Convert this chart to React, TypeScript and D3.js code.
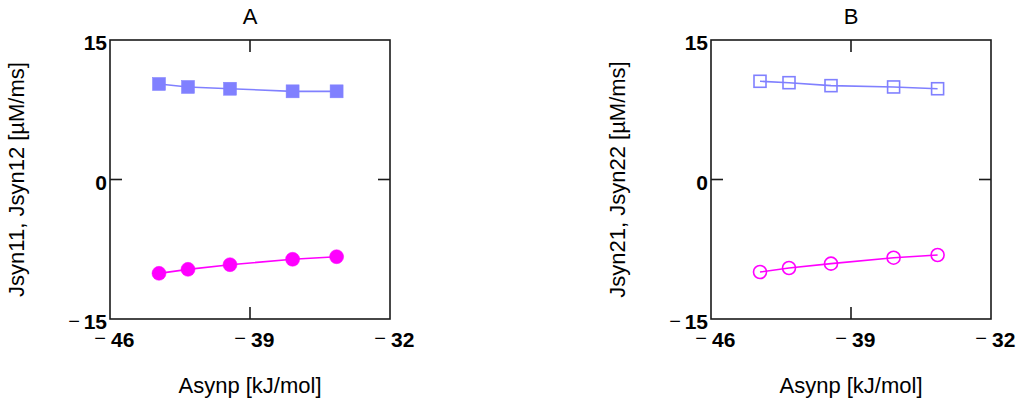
import React from "react";
import * as d3 from "d3";

const xValues = [-43.55, -42.1, -40.0, -36.87, -34.67];
const aSquares = [10.27, 9.95, 9.76, 9.48, 9.48];
const aCircles = [-10.09, -9.66, -9.16, -8.58, -8.3];
const bSquares = [10.56, 10.41, 10.09, 9.95, 9.76];
const bCircles = [-9.95, -9.52, -9.05, -8.41, -8.12];
const xTicks = [-46, -39, -32];
const yTicks = [-15, 0, 15];
const xDomain = [-46, -32];
const yDomain = [-15, 15];

const BLUE = "#8080ff";
const MAGENTA = "#ff00ff";
const AXIS = "#1a1a1a";
const FONT = "Liberation Sans, Arial, sans-serif";

type PanelProps = {
  left: number;
  title: string;
  yLabel: string;
  squares: number[];
  circles: number[];
  filled: boolean;
};

function Panel({ left, title, yLabel, squares, circles, filled }: PanelProps) {
  const top = 40;
  const w = 280;
  const h = 279;
  const x = d3.scaleLinear().domain(xDomain).range([left, left + w]);
  const y = d3.scaleLinear().domain(yDomain).range([top + h, top]);
  const line = d3
    .line<[number, number]>()
    .x((d) => x(d[0]))
    .y((d) => y(d[1]));
  const sqPts: [number, number][] = xValues.map((v, i) => [v, squares[i]]);
  const ciPts: [number, number][] = xValues.map((v, i) => [v, circles[i]]);
  const tick = 12;
  const sq = filled ? 13 : 12;
  const r = 7;
  const numStr = (v: number) => String(Math.abs(v));
  return (
    <g>
      <text x={x(-39)} y={24} textAnchor="middle" fontFamily={FONT} fontSize={22} fill="#000">
        {title}
      </text>
      <text
        transform={`translate(${left - 86},${y(0)}) rotate(-90)`}
        textAnchor="middle"
        fontFamily={FONT}
        fontSize={22}
        fill="#000"
      >
        {yLabel}
      </text>
      <text x={x(-39)} y={393} textAnchor="middle" fontFamily={FONT} fontSize={22} fill="#000">
        Asynp [kJ/mol]
      </text>
      <path d={line(sqPts) || ""} fill="none" stroke={BLUE} strokeWidth={1.6} />
      <path d={line(ciPts) || ""} fill="none" stroke={MAGENTA} strokeWidth={1.6} />
      {sqPts.map((p, i) => (
        <rect
          key={"s" + i}
          x={x(p[0]) - sq / 2}
          y={y(p[1]) - sq / 2}
          width={sq}
          height={sq}
          fill={filled ? BLUE : "none"}
          stroke={BLUE}
          strokeWidth={filled ? 0.5 : 1.6}
        />
      ))}
      {ciPts.map((p, i) => (
        <circle
          key={"c" + i}
          cx={x(p[0])}
          cy={y(p[1])}
          r={filled ? r : r - 0.5}
          fill={filled ? MAGENTA : "none"}
          stroke={MAGENTA}
          strokeWidth={filled ? 0.5 : 1.6}
        />
      ))}
      <rect x={left} y={top} width={w} height={h} fill="none" stroke={AXIS} strokeWidth={1.6} />
      {xTicks.slice(1, -1).map((t) => (
        <g key={"xt" + t}>
          <line x1={x(t)} x2={x(t)} y1={top} y2={top + tick} stroke={AXIS} strokeWidth={1.6} />
          <line x1={x(t)} x2={x(t)} y1={top + h} y2={top + h - tick} stroke={AXIS} strokeWidth={1.6} />
        </g>
      ))}
      {yTicks.slice(1, -1).map((t) => (
        <g key={"yt" + t}>
          <line x1={left} x2={left + tick} y1={y(t)} y2={y(t)} stroke={AXIS} strokeWidth={1.6} />
          <line x1={left + w} x2={left + w - tick} y1={y(t)} y2={y(t)} stroke={AXIS} strokeWidth={1.6} />
        </g>
      ))}
      {xTicks.map((t) => (
        <g key={"xl" + t}>
          {t < 0 && (
            <text x={x(t) - 4} y={y(-15) + 26} textAnchor="end" fontFamily={FONT} fontSize={20} fill="#000">
              −
            </text>
          )}
          <text x={x(t) + 1} y={y(-15) + 28} textAnchor="start" fontFamily={FONT} fontSize={21} fontWeight="bold" fill="#000">
            {numStr(t)}
          </text>
        </g>
      ))}
      {yTicks.map((t) => (
        <g key={"yl" + t}>
          <text x={left - 3} y={y(t) + 10} textAnchor="end" fontFamily={FONT} fontSize={21} fontWeight="bold" fill="#000">
            {numStr(t)}
          </text>
          {t < 0 && (
            <text x={left - 30} y={y(t) + 9} textAnchor="end" fontFamily={FONT} fontSize={20} fill="#000">
              −
            </text>
          )}
        </g>
      ))}
    </g>
  );
}

export default function App() {
  return (
    <svg
      width={1024}
      height={406}
      viewBox="0 0 1024 406"
      style={{ position: "absolute", left: 0, top: 0, background: "#fff" }}
    >
      <rect x={0} y={0} width={1024} height={406} fill="#fff" />
      <Panel left={110} title="A" yLabel="Jsyn11, Jsyn12 [µM/ms]" squares={aSquares} circles={aCircles} filled={true} />
      <Panel left={711} title="B" yLabel="Jsyn21, Jsyn22 [µM/ms]" squares={bSquares} circles={bCircles} filled={false} />
    </svg>
  );
}
